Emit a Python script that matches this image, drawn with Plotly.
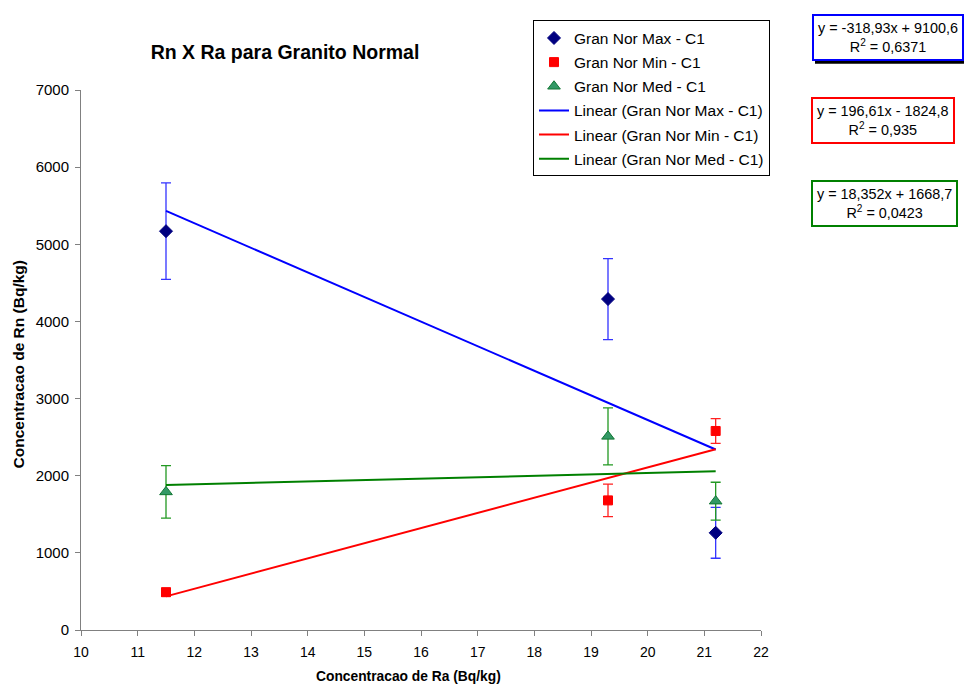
import numpy as np
import plotly.graph_objects as go

# Data
ra = [11.5, 19.3, 21.2]

max_rn = [5170, 4290, 1260]
max_err = [625, 525, 330]

min_rn = [490, 1680, 2580]
min_err = [50, 210, 160]

med_rn = [1790, 2510, 1670]
med_err = [340, 370, 245]

# Trend line coefficients (as printed on the chart)
max_fit = (-318.93, 9100.6, 0.6371)
min_fit = (196.61, -1824.8, 0.935)
med_fit = (18.352, 1668.7, 0.0423)

x_ticks = list(range(10, 23))
y_ticks = list(range(0, 7001, 1000))

FONT = "Liberation Sans, Arial, sans-serif"

fig = go.Figure()

def add_points(name, y, err, symbol, color, line_color, errcolor, size):
    fig.add_trace(go.Scatter(
        x=ra, y=y, mode="markers", name=name,
        legendgroup=name,
        marker=dict(symbol=symbol, color=color, size=size,
                    line=dict(color=line_color, width=1)),
        error_y=dict(type="data", array=err, visible=True,
                     color=errcolor, thickness=1.3, width=5),
    ))

add_points("Gran Nor Max - C1", max_rn, max_err, "diamond", "#000080", "#000080", "#3333FF", 10)
add_points("Gran Nor Min - C1", min_rn, min_err, "square", "#FF0000", "#FF0000", "#FF2020", 9)
add_points("Gran Nor Med - C1", med_rn, med_err, "triangle-up", "#339966", "#117733", "#229922", 11)

xs = np.array([min(ra), max(ra)])
for name, fit, color in [
    ("Linear (Gran Nor Max - C1)", max_fit, "#0000FF"),
    ("Linear (Gran Nor Min - C1)", min_fit, "#FF0000"),
    ("Linear (Gran Nor Med - C1)", med_fit, "#008000"),
]:
    fig.add_trace(go.Scatter(
        x=xs, y=fit[0] * xs + fit[1], mode="lines", name=name,
        legendgroup=name, line=dict(color=color, width=2),
    ))

def fmt(v, nd):
    return f"{v:.{nd}f}".replace(".", ",")

def eq_text(fit, nd_s, nd_i):
    s, i, r2 = fit
    sign = "+" if i >= 0 else "-"
    return (f"y = {fmt(s, nd_s)}x {sign} {fmt(abs(i), nd_i)}<br>"
            f"R<sup>2</sup> = {str(r2).replace('.', ',')}")

OFF = 8  # page body margin
W, H = 964, 678
L, R, T, B = 73, 211, 79, 56
pw, ph = W - L - R, H - T - B

def px(xp):
    return (xp - OFF - L) / pw

def py(yp):
    return (H - B - (yp - OFF)) / ph

# drop shadow behind the first equation box
fig.add_shape(type="rect", xref="paper", yref="paper",
              x0=px(815), x1=px(964), y0=py(15), y1=py(60.5),
              fillcolor="black", line=dict(width=0), layer="above")

EQ_SIZE = 14.4
boxes = [
    (max_fit, 2, 1, "#0000FF", 812, 11),
    (min_fit, 2, 1, "#FF0000", 811, 94),
    (med_fit, 3, 1, "#008000", 811, 177),
]
for fit, nds, ndi, col, bx, by in boxes:
    fig.add_annotation(
        x=px(bx), y=py(by), xref="paper", yref="paper",
        xanchor="left", yanchor="top", text=eq_text(fit, nds, ndi),
        showarrow=False,
        font=dict(family=FONT, size=EQ_SIZE, color="black"),
        bgcolor="white", bordercolor=col, borderwidth=2, borderpad=4,
    )

# Axis titles placed as annotations
fig.add_annotation(
    x=px(408), y=py(677), xref="paper", yref="paper",
    xanchor="center", yanchor="middle", showarrow=False,
    text="<b>Concentracao de Ra (Bq/kg)</b>",
    font=dict(family=FONT, size=13.8, color="black"),
)
fig.add_annotation(
    x=px(18), y=py(363), xref="paper", yref="paper",
    xanchor="center", yanchor="middle", showarrow=False, textangle=-90,
    text="<b>Concentracao de Rn (Bq/kg)</b>",
    font=dict(family=FONT, size=15.5, color="black"),
)

fig.update_layout(
    width=W, height=H,
    margin=dict(l=L, r=R, t=T, b=B),
    paper_bgcolor="white", plot_bgcolor="white",
    font=dict(family=FONT, size=14, color="black"),
    title=dict(text="<b>Rn X Ra para Granito Normal</b>",
               x=(285 - OFF) / W, xanchor="center", y=1 - (52 - OFF) / H,
               yanchor="middle",
               font=dict(family=FONT, size=19.5, color="black")),
    showlegend=True,
    legend=dict(x=px(533), y=py(17), xanchor="left", yanchor="top",
                bordercolor="black", borderwidth=1, bgcolor="white",
                font=dict(family=FONT, size=15.5), traceorder="grouped",
                tracegroupgap=1),
    xaxis=dict(range=[10, 22], tickvals=x_ticks, ticks="outside", ticklen=5,
               showgrid=False, zeroline=False, showline=True, linecolor="#808080",
               tickcolor="#808080", tickfont=dict(size=14),
               ticklabelstandoff=4),
    yaxis=dict(range=[0, 7000], tickvals=y_ticks, ticks="outside", ticklen=5,
               showgrid=False, zeroline=False, showline=True, linecolor="#808080",
               tickcolor="#808080", tickfont=dict(size=15),
               ticklabelstandoff=3),
)

fig.write_html("out.html")
